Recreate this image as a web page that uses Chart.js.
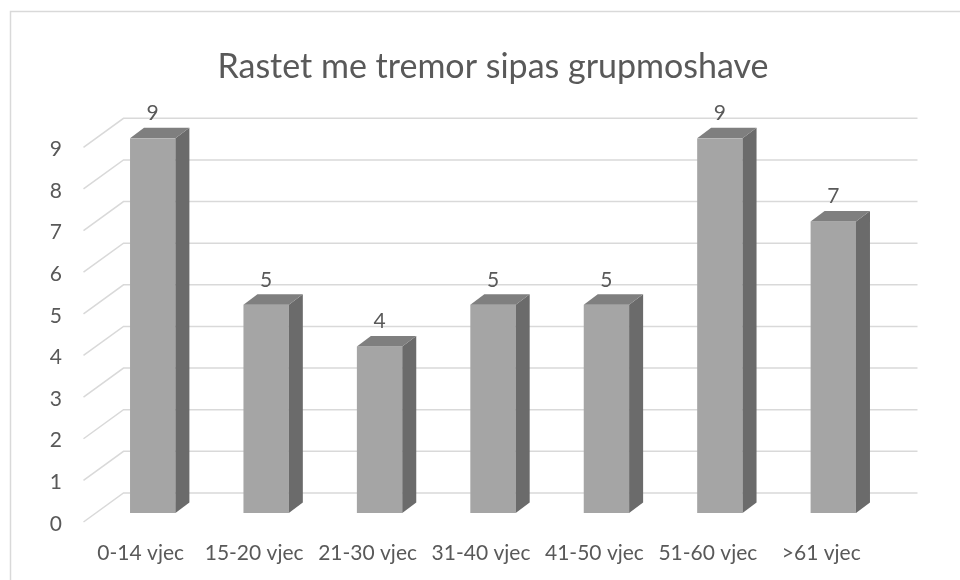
<!DOCTYPE html>
<html>
<head>
<meta charset="utf-8">
<script src="https://cdn.jsdelivr.net/npm/chart.js@4"></script>
<style>
  body { margin: 0; background: #fff; }
  #wrap { width: 960px; height: 580px; position: relative; }
</style>
</head>
<body>
<div id="wrap"><canvas id="tremorChart"></canvas></div>
<script>
const titleText = "Rastet me tremor sipas grupmoshave";
const ageGroups = ["0-14 vjec", "15-20 vjec", "21-30 vjec", "31-40 vjec", "41-50 vjec", "51-60 vjec", ">61 vjec"];
const patients = [9, 5, 4, 5, 5, 9, 7];
const yTicks = [0, 1, 2, 3, 4, 5, 6, 7, 8, 9];

const textColor = "#595959";
const gridColor = "#d9d9d9";
const fontFamily = "Lato, 'Open Sans', sans-serif";

// 3d look: offsets for bar depth and for the floor/wall
const barDX = 14, barDY = -10.5;
const frontDX = -12.5, frontDY = 9;
const backDX = 27.5, backDY = -20;

const box3d = {
  id: "box3d",
  beforeDraw(chart) {
    const c = chart.ctx;
    c.save();
    c.fillStyle = "#fff";
    c.fillRect(0, 0, chart.width, chart.height);
    c.strokeStyle = gridColor;
    c.lineWidth = 1.5;
    c.strokeRect(10.5, 11.5, 1200, 1200);
    c.restore();
  },
  beforeDatasetsDraw(chart) {
    const c = chart.ctx;
    const y = chart.scales.y;
    const a = chart.chartArea;
    c.save();
    c.strokeStyle = gridColor;
    c.lineWidth = 1.5;
    yTicks.forEach(v => {
      const py = y.getPixelForValue(v);
      c.beginPath();
      c.moveTo(a.left + frontDX, py + frontDY);
      c.lineTo(a.left + backDX, py + backDY);
      c.lineTo(a.right + backDX, py + backDY);
      c.stroke();
    });
    c.restore();
  },
  afterDatasetsDraw(chart) {
    const c = chart.ctx;
    const meta = chart.getDatasetMeta(0);
    c.save();
    meta.data.forEach((el, i) => {
      const w = el.width;
      const x0 = el.x - w / 2, x1 = el.x + w / 2;
      // side
      c.fillStyle = "#6b6b6b";
      c.beginPath();
      c.moveTo(x1, el.y);
      c.lineTo(x1 + barDX, el.y + barDY);
      c.lineTo(x1 + barDX, el.base + barDY);
      c.lineTo(x1, el.base);
      c.closePath();
      c.fill();
      // top
      c.fillStyle = "#7f7f7f";
      c.beginPath();
      c.moveTo(x0, el.y);
      c.lineTo(x0 + barDX, el.y + barDY);
      c.lineTo(x1 + barDX, el.y + barDY);
      c.lineTo(x1, el.y);
      c.closePath();
      c.fill();
      // value label
      c.fillStyle = textColor;
      c.font = "21px " + fontFamily;
      c.textAlign = "center";
      c.textBaseline = "middle";
      c.fillText(String(patients[i]), el.x, el.y - 25);
    });
    c.restore();
  }
};

new Chart(document.getElementById("tremorChart"), {
  type: "bar",
  data: {
    labels: ageGroups,
    datasets: [{
      data: patients,
      backgroundColor: "#a5a5a5",
      borderWidth: 0,
      categoryPercentage: 1,
      barPercentage: 0.4
    }]
  },
  options: {
    responsive: true,
    maintainAspectRatio: false,
    devicePixelRatio: 1,
    animation: false,
    layout: { padding: { left: 0, right: 70, top: 0, bottom: 0 } },
    plugins: {
      legend: { display: false },
      tooltip: { enabled: false },
      title: {
        display: true,
        fullSize: false,
        text: titleText,
        color: textColor,
        font: { family: fontFamily, size: 34, weight: "normal", lineHeight: 1.2 },
        padding: { top: 47, bottom: 50.5 }
      }
    },
    scales: {
      x: {
        grid: { display: false, drawTicks: false },
        border: { display: false },
        ticks: {
          color: textColor,
          font: { family: fontFamily, size: 21 },
          padding: 28,
          labelOffset: -12,
          maxRotation: 0
        },
        afterFit(s) { s.height = 67; }
      },
      y: {
        min: 0,
        max: 9,
        grid: { display: false, drawTicks: false },
        border: { display: false },
        ticks: {
          stepSize: 1,
          color: textColor,
          font: { family: fontFamily, size: 21 },
          padding: 34,
          labelOffset: 11
        },
        afterFit(s) { s.width = 96; }
      }
    }
  },
  plugins: [box3d]
});
</script>
</body>
</html>
